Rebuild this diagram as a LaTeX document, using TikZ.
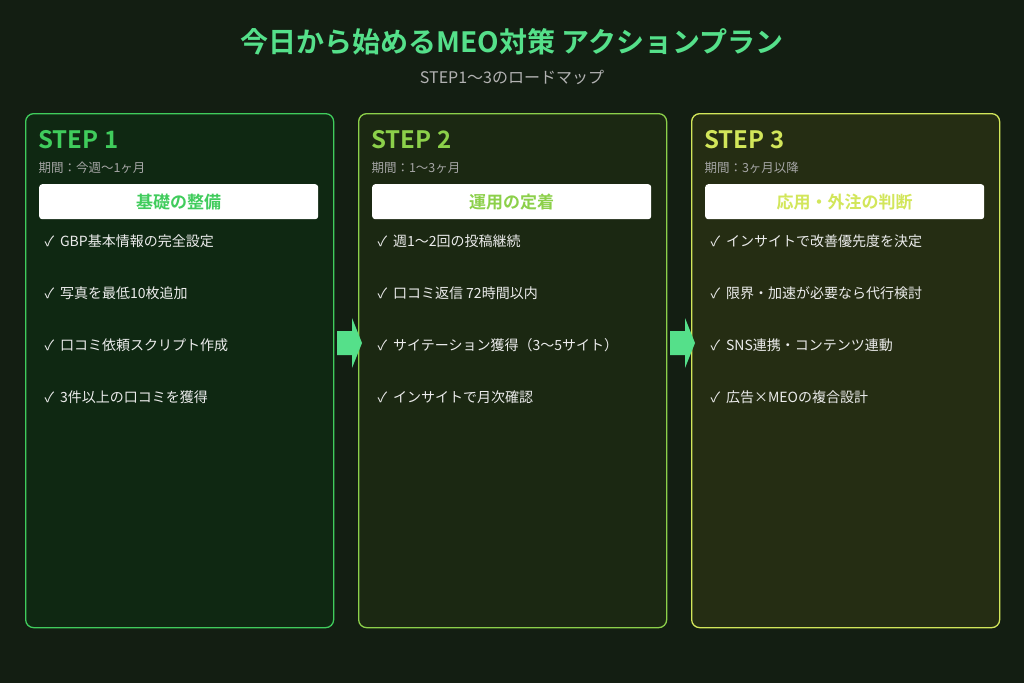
\documentclass[tikz,border=0pt]{standalone}
\usepackage{fontspec}
\setmainfont{Noto Sans CJK JP}[BoldFont={Noto Sans CJK JP Bold}]
\begin{document}
\begin{tikzpicture}[x=1pt,y=-1pt,
 card/.style={draw,line width=1.3pt,rounded corners=8pt,minimum width=308pt,minimum height=514pt,anchor=north west},
 stp/.style={anchor=west,font=\fontsize{24}{24}\selectfont\bfseries},
 per/.style={anchor=west,text=gray!70!white,font=\fontsize{12.5}{12.5}\selectfont},
 head/.style={fill=white,rounded corners=3pt,minimum width=279pt,minimum height=35pt,anchor=north west,font=\fontsize{17}{17}\selectfont\bfseries},
 item/.style={anchor=west,text=white!85!gray,font=\fontsize{14}{14}\selectfont},
 arr/.style={fill=arrg,draw=none}]
\definecolor{bg}{HTML}{131E12}
\definecolor{arrg}{HTML}{55E08A}
\definecolor{cA}{HTML}{40CC5C}\definecolor{fA}{HTML}{0F2812}
\definecolor{cB}{HTML}{8CD04A}\definecolor{fB}{HTML}{1B2812}
\definecolor{cC}{HTML}{D2E65A}\definecolor{fC}{HTML}{252D13}
\fill[bg] (0,0) rectangle (1024,683);
\useasboundingbox (0,0) rectangle (1024,683);
\node[text=arrg,font=\fontsize{28}{28}\selectfont\bfseries] (title) at (512,42) {今日から始めるMEO対策 アクションプラン};
\node[text=gray!60!white,font=\fontsize{16}{16}\selectfont] (sub) at (512,77) {STEP1〜3のロードマップ};
\foreach \i/\x/\c/\f/\p/\h/\a/\b/\cc/\d in {
 1/25/cA/fA/期間：今週〜1ヶ月/基礎の整備/GBP基本情報の完全設定/写真を最低10枚追加/口コミ依頼スクリプト作成/3件以上の口コミを獲得,
 2/358/cB/fB/期間：1〜3ヶ月/運用の定着/週1〜2回の投稿継続/口コミ返信 72時間以内/サイテーション獲得（3〜5サイト）/インサイトで月次確認,
 3/691/cC/fC/期間：3ヶ月以降/応用・外注の判断/インサイトで改善優先度を決定/限界・加速が必要なら代行検討/SNS連携・コンテンツ連動/広告×MEOの複合設計}{
 \node[card,draw=\c,fill=\f] (card\i) at (\x,113) {};
 \node[stp,text=\c] (s\i) at (\x+10,140) {STEP \i};
 \node[per] (p\i) at (\x+10,168) {\p};
 \node[head,text=\c] (h\i) at (\x+14,184) {\h};
 \node[item] (a\i) at (\x+16,241) {✓\hspace{6pt}\a};
 \node[item] (b\i) at (\x+16,293) {✓\hspace{6pt}\b};
 \node[item] (c\i) at (\x+16,345) {✓\hspace{6pt}\cc};
 \node[item] (d\i) at (\x+16,397) {✓\hspace{6pt}\d};
}
\fill[arr] (337,331) -- (352,331) -- (352,318) -- (362,343) -- (352,368) -- (352,355) -- (337,355) -- cycle;
\fill[arr] (670,331) -- (685,331) -- (685,318) -- (695,343) -- (685,368) -- (685,355) -- (670,355) -- cycle;
\end{tikzpicture}
\end{document}
